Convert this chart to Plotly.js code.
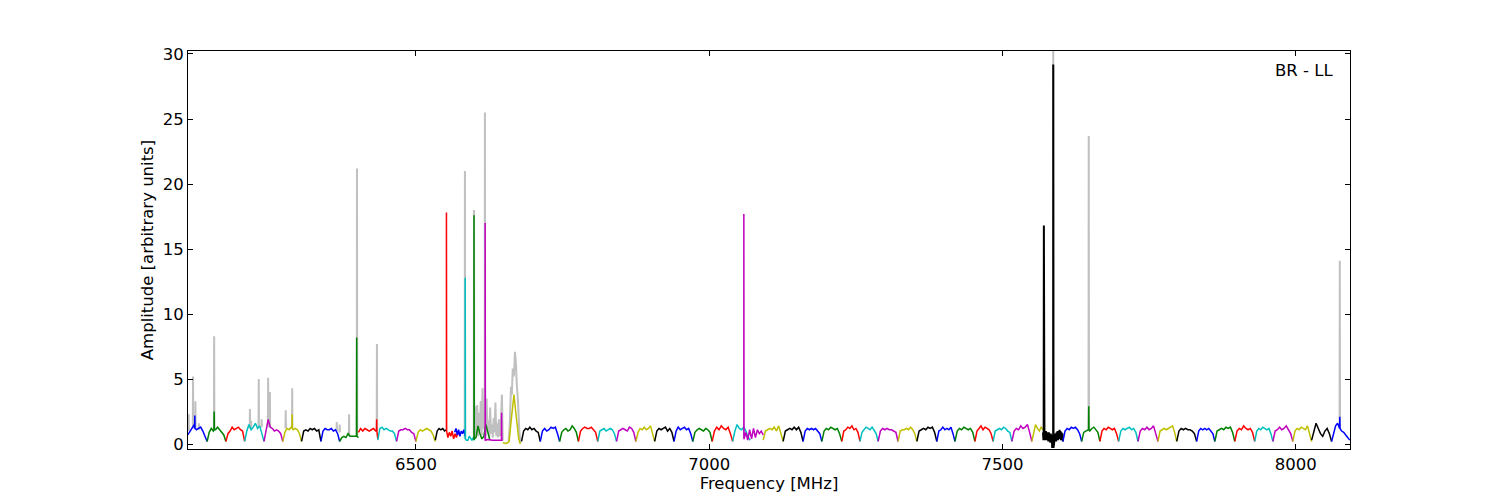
<!DOCTYPE html>
<html>
<head>
<meta charset="utf-8">
<script src="https://cdn.plot.ly/plotly-3.0.1.min.js"></script>
<style>html,body{margin:0;padding:0;background:#fff;}#chart{width:1500px;height:500px;}</style>
</head>
<body>
<div id="chart"></div>
<script>
// ---- Spectral-window segments (MHz) ----
const segStart = [6111,6144,6176,6208,6241,6273,6305,6338,6370,6402,6435,6467,6500,6533,6552,6566,6584,6599,6618,6648,6680,6712,6745,6777,6810,6842,6875,6907,6940,6972,7005,7040,7059,7092,7126,7160,7192,7226,7257,7288,7322,7354,7388,7419,7453,7484,7516,7550,7569,7603,7635,7666,7698,7731,7765,7797,7831,7862,7896,7930,7961,7995,8027,8061];
const segEnd   = [6144,6176,6208,6241,6273,6305,6338,6370,6402,6435,6467,6500,6533,6552,6574,6584,6600,6626,6648,6678,6712,6745,6777,6810,6842,6875,6907,6940,6972,7005,7040,7070,7092,7126,7160,7192,7226,7257,7288,7322,7354,7388,7419,7453,7484,7516,7550,7569,7603,7635,7666,7698,7731,7765,7797,7831,7862,7896,7930,7961,7995,8027,8061,8092];
const segColor = ['b','g','r','c','m','y','k','b','g','r','c','m','y',
                  'k','r','b','c','g','m','y','k',
                  'b','g','r','c','m','y','k','b','g','r','c','m','y','k','b','g','r','c','m','y','k',
                  'b','g','r','c','m','y','k','b','g','r','c','m','y','k','b','g','r','c','m','y','k','b'];
const segVals = [
 [0.7,1.0,1.3,1.5,1.1,1.2,1.3,1.0,0.6,0.2],
 [0.2,0.9,1.2,1.0,1.1,1.3,1.1,0.9,0.7,0.2],
 [0.2,0.8,1.0,1.3,1.1,1.2,1.3,1.1,1.0,0.2],
 [0.2,1.0,1.5,1.1,1.3,1.6,1.2,1.4,0.8,0.2],
 [0.2,1.0,1.9,1.3,1.2,1.0,1.1,1.0,0.8,0.2],
 [0.2,0.9,1.2,1.1,1.3,1.1,1.2,1.1,0.8,0.2],
 [0.2,1.0,1.1,1.0,1.2,1.1,1.2,1.0,1.1,0.2],
 [0.2,1.0,1.2,1.1,1.1,1.2,1.0,1.1,0.8,0.2],
 [0.2,0.5,0.6,0.5,0.8,0.6,0.6,0.6,0.6,0.5],
 [0.9,1.2,1.0,1.2,1.1,1.0,1.1,1.2,1.0,0.4],
 [0.3,1.2,1.3,1.1,1.2,1.1,1.0,1.0,0.8,0.2],
 [0.2,1.0,1.1,1.1,1.2,1.1,1.1,0.9,0.8,0.2],
 [0.2,0.9,1.1,1.0,1.1,1.2,1.1,1.0,0.7,0.2],
 [0.3,1.0,1.2,1.1,1.2,1.0,1.1],
 [1.0,0.5,0.9,0.6,1.0,0.4,0.8,0.5,1.0,0.7],
 [0.9,1.2,0.7,1.1,0.6,1.0,0.8,1.1,0.6],
 [0.4,0.3,0.3,0.6,0.4,0.3,0.5,0.3],
 [0.3,0.5,1.4,0.8,0.4,0.6,1.5,0.9,0.3],
 [0.3,0.35,0.3,0.3,0.3,0.3,0.3,0.3],
 [0.1,0.05,0.05,0.1,0.2,1.5,3.0,3.8,2.6,1.5,0.4,0.0],
 [0.2,1.0,1.2,1.1,1.3,1.1,1.2,1.0,0.9,0.2],
 [0.2,1.0,1.2,1.0,1.1,1.3,1.2,1.3,0.8,0.2],
 [0.2,0.9,1.1,1.2,1.0,1.1,1.4,1.2,0.9,0.2],
 [0.2,1.0,1.2,1.3,1.2,1.2,1.3,1.1,0.9,0.2],
 [0.2,1.0,1.1,1.2,1.0,1.1,1.2,1.1,0.8,0.2],
 [0.2,1.0,1.1,1.2,1.1,1.0,1.3,1.2,0.9,0.2],
 [0.2,0.9,1.2,1.1,1.3,1.1,1.2,1.4,0.8,0.2],
 [0.2,1.0,1.2,1.1,1.2,1.3,1.0,1.2,0.9,0.2],
 [0.2,1.0,1.3,1.1,1.2,1.3,1.1,1.2,0.8,0.2],
 [0.2,0.9,1.1,1.2,1.1,1.0,1.2,1.1,0.9,0.2],
 [0.2,1.0,1.3,1.1,1.4,1.2,1.1,1.3,0.8,0.2],
 [0.2,1.0,1.5,1.2,1.1,1.3,1.0,0.5,0.3],
 [0.4,0.9,0.3,1.1,0.4,1.2,0.5,1.1,0.8,1.0,0.7],
 [0.3,1.0,1.1,1.2,1.1,1.3,1.0,1.4,0.8,0.2],
 [0.2,1.0,1.1,1.2,1.1,1.3,1.1,1.3,0.9,0.2],
 [0.2,1.0,1.2,1.1,1.2,1.1,1.2,1.0,0.8,0.2],
 [0.2,1.0,1.2,1.1,1.3,1.2,1.1,1.2,0.8,0.2],
 [0.2,1.0,1.1,1.3,1.2,1.4,1.1,1.2,0.9,0.2],
 [0.2,0.9,1.1,1.3,1.2,1.1,1.3,1.0,0.8,0.2],
 [0.2,1.0,1.2,1.1,1.2,1.1,1.1,1.0,0.9,0.2],
 [0.2,1.0,1.1,1.1,1.2,1.1,1.3,1.1,0.8,0.2],
 [0.2,1.0,1.1,1.2,1.1,1.3,1.2,1.3,0.9,0.2],
 [0.2,1.0,1.1,1.3,1.1,1.2,1.1,1.3,0.8,0.2],
 [0.2,1.0,1.2,1.1,1.3,1.2,1.1,1.2,0.9,0.2],
 [0.2,1.0,1.2,1.4,1.1,1.3,1.2,1.1,0.8,0.2],
 [0.2,1.0,1.1,1.2,1.1,1.3,1.2,1.0,0.9,0.2],
 [0.2,1.0,1.2,1.1,1.4,1.2,1.3,1.5,0.9,0.2],
 [0.2,0.9,1.5,1.2,1.0,1.3,1.1],
 [0.9,0.3,1.0,0.4,0.9,0.3,1.0,0.5,0.9,0.3,0.8,0.2,0.9,0.4,0.7,0.1,0.8,0.3,0.6,-0.3,0.7,0.2,0.6,0.1,0.8,0.3,0.7,0.2,0.9,0.4,1.0,0.3,0.9,0.5,1.1,0.4,1.0,0.3,0.9,0.5,0.8,0.2],
 [0.2,1.0,1.2,1.1,1.3,1.2,1.3,1.1,0.8,0.2],
 [0.2,0.9,1.0,1.1,1.0,1.2,1.3,1.1,0.9,0.2],
 [0.2,1.0,1.2,1.1,1.3,1.2,1.1,1.2,0.8,0.2],
 [0.2,1.0,1.2,1.1,1.2,1.3,1.1,1.2,0.9,0.2],
 [0.2,1.0,1.2,1.1,1.3,1.1,1.2,1.4,0.8,0.2],
 [0.2,1.0,1.1,1.2,1.1,1.2,1.3,1.4,0.9,0.2],
 [0.2,1.0,1.2,1.1,1.2,1.1,1.1,1.0,0.8,0.2],
 [0.2,1.0,1.2,1.1,1.2,1.1,1.2,1.0,0.8,0.2],
 [0.2,1.0,1.1,1.2,1.1,1.3,1.2,1.3,0.9,0.2],
 [0.2,1.0,1.2,1.1,1.4,1.2,1.1,1.2,0.9,0.2],
 [0.2,1.0,1.2,1.1,1.3,1.2,1.1,1.2,0.8,0.2],
 [0.2,1.0,1.1,1.3,1.1,1.2,1.4,1.1,0.8,0.2],
 [0.2,1.0,1.2,1.1,1.3,1.2,1.1,1.4,0.8,0.2],
 [0.3,1.0,1.6,1.2,0.8,0.6,1.0,1.2,0.8,0.2],
 [0.2,0.9,1.4,1.6,1.2,1.0,0.9,0.7,0.5,0.3]
];

// ---- Narrow spikes in the coloured (kept) data ----
const spikeSeg  = [0, 1, 5, 8, 9, 14, 16, 17, 18, 18, 32, 48, 48, 50, 63];
const spikeFreq = [6123, 6156, 6289, 6399, 6433, 6552, 6584, 6599, 6618, 6646, 7059, 7570.5, 7586.5, 7647, 8075];
const spikeAmp  = [2.2, 2.5, 2.3, 8.2, 1.9, 17.8, 12.8, 17.6, 17.0, 2.4, 17.7, 16.8, 29.2, 2.9, 2.1];
const spikeBase = [1.2, 1.1, 1.2, 0.6, 1.0, 1.0, 0.4, 0.4, 0.3, 0.3, 0.4, 0.8, -0.3, 1.1, 1.2];

// ---- Gray (unflagged) data: spikes above the kept data ----
const grayFreq = [6112.5, 6120, 6124, 6130, 6156, 6217, 6219, 6232, 6237, 6248, 6251, 6278, 6289, 6365, 6370, 6386, 6399.5, 6433.5, 6583.5, 6599, 6617.6, 7586.5, 7647, 8075];
const grayAmp  = [2.3, 5.2, 3.3, 1.6, 8.3, 2.7, 1.8, 5.0, 1.9, 5.1, 4.0, 2.6, 4.3, 1.7, 1.5, 2.3, 21.2, 7.7, 21.0, 18.0, 25.5, 31.0, 23.7, 14.1];
const grayBase = [1.0, 1.2, 1.2, 1.1, 1.2, 1.2, 1.2, 1.3, 1.3, 1.3, 1.3, 1.2, 1.2, 1.0, 0.9, 0.6, 0.6, 1.0, 0.4, 0.4, 0.4, 0.8, 1.1, 1.2];
// broadband RFI region (continuous gray line)
const grayNoiseF = [6600,6601.5,6603,6604.5,6606,6607.5,6609,6610.5,6612,6613.5,6615,6616.5,6619,6620.5,6622,6623.5,6625,6626.5,6628,6629.5,6631,6632.5,6634,6635.5,6637,6638.5,6640,6641.5,6643,6644.5,6646.6,6648];
const grayNoiseA = [0.5,2.9,0.8,3.0,0.6,2.4,1.0,3.3,0.7,4.3,1.2,2.6,0.6,3.5,0.9,1.8,0.5,2.8,0.8,1.5,0.5,2.0,0.9,3.2,0.6,1.6,0.5,1.9,0.6,1.2,3.8,0.3];
const grayBumpF = [6658,6660,6662,6663.5,6665,6667,6668.8,6670.5,6672,6674,6676,6678];
const grayBumpA = [0.2,1.5,4.4,3.8,5.8,5.2,7.1,6.2,4.5,3.3,1.2,0.1];

const colorMap = {b:'#0000ff', g:'#008000', r:'#ff0000', c:'#00bfbf', m:'#bf00bf', y:'#bfbf00', k:'#000000'};

// ---- build traces ----
const traces = [];
const gx = [], gy = [];
for (let i = 0; i < grayFreq.length; i++) {
  gx.push(grayFreq[i]-0.4, grayFreq[i], grayFreq[i]+0.4, null);
  gy.push(grayBase[i], grayAmp[i], grayBase[i], null);
}
grayNoiseF.forEach((f,i)=>{gx.push(f); gy.push(grayNoiseA[i]);}); gx.push(null); gy.push(null);
grayBumpF.forEach((f,i)=>{gx.push(f); gy.push(grayBumpA[i]);});
traces.push({x:gx, y:gy, type:'scatter', mode:'lines', line:{color:'#c0c0c0', width:2}, connectgaps:false, hoverinfo:'skip', showlegend:false});

for (let s = 0; s < segStart.length; s++) {
  const v = segVals[s], n = v.length;
  let pts = v.map((val,j)=>[segStart[s] + (segEnd[s]-segStart[s])*j/(n-1), val]);
  for (let k = 0; k < spikeSeg.length; k++) {
    if (spikeSeg[k] === s) {
      pts.push([spikeFreq[k]-0.35, spikeBase[k]], [spikeFreq[k], spikeAmp[k]], [spikeFreq[k]+0.35, spikeBase[k]]);
    }
  }
  pts.sort((a,b)=>a[0]-b[0]);
  traces.push({x:pts.map(p=>p[0]), y:pts.map(p=>p[1]), type:'scatter', mode:'lines',
    line:{color:colorMap[segColor[s]], width: s===48 ? 2 : 1.5}, hoverinfo:'skip', showlegend:false});
}

const fontFam = 'DejaVu Sans, sans-serif';
const fs = 16.5;
const layout = {
  width:1500, height:500,
  margin:{l:188, r:150, t:51, b:51},
  paper_bgcolor:'#ffffff', plot_bgcolor:'#ffffff',
  showlegend:false,
  font:{family:fontFam, size:fs, color:'#000'},
  xaxis:{range:[6111.4, 8092.4], tickvals:[6500,7000,7500,8000], ticktext:['6500','7000','7500','8000'],
    ticks:'inside', ticklen:5, tickwidth:1, tickcolor:'#000', showline:true, linecolor:'#000', linewidth:1, mirror:'ticks',
    showgrid:false, zeroline:false, tickfont:{family:fontFam, size:fs},
    title:{text:'Frequency [MHz]', font:{family:fontFam, size:fs}, standoff:2}},
  yaxis:{range:[-0.38, 30.23], tickvals:[0,5,10,15,20,25,30],
    ticks:'inside', ticklen:5, tickwidth:1, tickcolor:'#000', showline:true, linecolor:'#000', linewidth:1, mirror:'ticks',
    showgrid:false, zeroline:false, tickfont:{family:fontFam, size:fs},
    title:{text:'Amplitude [arbitrary units]', font:{family:fontFam, size:fs}, standoff:4}},
  annotations:[{text:'BR - LL', xref:'paper', yref:'paper', x:0.9872, y:0.952, xanchor:'right', yanchor:'middle', showarrow:false, font:{family:fontFam, size:fs, color:'#000'}}]
};
Plotly.newPlot('chart', traces, layout, {staticPlot:true, displayModeBar:false});
</script>
</body>
</html>
